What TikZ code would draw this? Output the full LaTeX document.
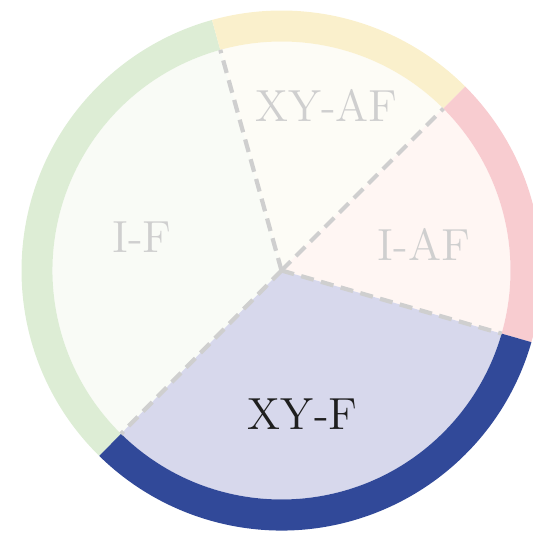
\documentclass[tikz,border=0pt]{standalone}
\usepackage{tikz}
\definecolor{ifring}{HTML}{DDEDD5}
\definecolor{iffill}{HTML}{F9FBF6}
\definecolor{xyafring}{HTML}{FAF0CC}
\definecolor{xyaffill}{HTML}{FDFCF6}
\definecolor{iafring}{HTML}{F8CCD0}
\definecolor{iaffill}{HTML}{FFF6F3}
\definecolor{xyfring}{HTML}{314999}
\definecolor{xyffill}{HTML}{D7D8EC}
\definecolor{fadegray}{HTML}{CFCFCF}
\newcommand{\rin}{2.29}
\newcommand{\rout}{2.60}
\newcommand{\pieslice}[4]{%
    \fill[#3] (0,0) -- (#1:\rin) arc[start angle=#1,end angle=#2,radius=\rin] -- cycle;
    \fill[#4] (#1:\rin) arc[start angle=#1,end angle=#2,radius=\rin]
        -- (#2:\rout) arc[start angle=#2,end angle=#1,radius=\rout] -- cycle;
}
\tikzset{
    sep/.style={draw=fadegray,line width=1.2pt,dash pattern=on 0.13cm off 0.075cm},
    label/.style={font=\fontsize{12.8}{15}\selectfont,inner sep=0pt},
    faded/.style={label,text=fadegray},
    active/.style={label,text=black!88},
}

\begin{document}
\begin{tikzpicture}
    \useasboundingbox (-2.815,-2.655) rectangle (2.515,2.705);
    \clip (-2.815,-2.655) rectangle (2.515,2.705);

    \pieslice{105.5}{225.5}{iffill}{ifring}
    \pieslice{45}{105.5}{xyaffill}{xyafring}
    \pieslice{-16}{45}{iaffill}{iafring}
    \pieslice{225.5}{344}{xyffill}{xyfring}

    \coordinate (c) at (0,0);
    \coordinate (b1) at (105.5:\rin);
    \coordinate (b2) at (45:\rin);
    \coordinate (b3) at (-16:\rin);
    \coordinate (b4) at (225.5:\rin);
    \draw[sep] (c) -- (b1);
    \draw[sep] (c) -- (b2);
    \draw[sep] (c) -- (b3);
    \draw[sep] (c) -- (b4);

    \node[faded] (if) at (-1.395,0.33) {I-F};
    \node[faded] (xyaf) at (0.45,1.655) {XY-AF};
    \node[faded] (iaf) at (1.425,0.265) {I-AF};
    \node[active] (xyf) at (0.212,-1.435) {XY-F};
\end{tikzpicture}
\end{document}
